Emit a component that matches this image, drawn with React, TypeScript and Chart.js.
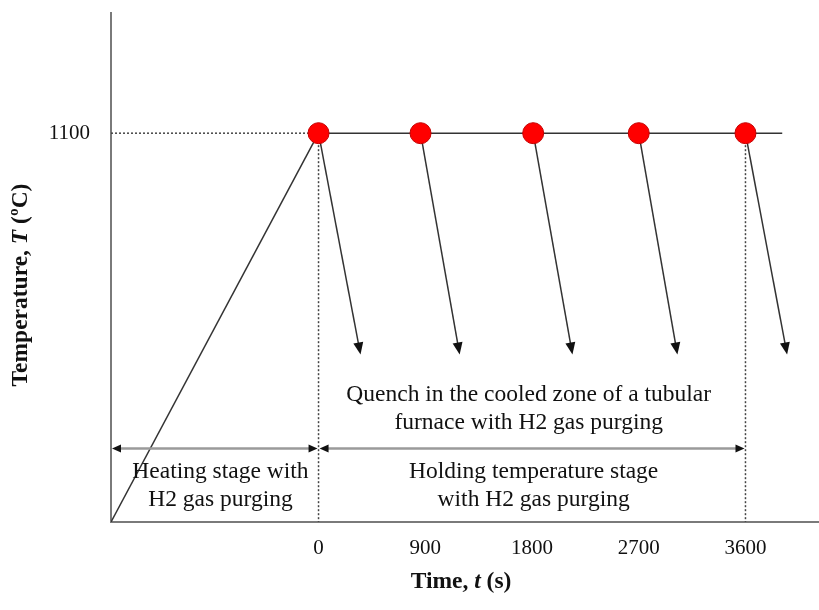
import React, { useEffect, useRef } from 'react';
import { Chart, registerables } from 'chart.js';

Chart.register(...registerables);

const SERIF = '"Liberation Serif", "Times New Roman", Times, serif';

// ---- data ----
const xTickValues = [0, 900, 1800, 2700, 3600];
const xTickLabels = ['0', '900', '1800', '2700', '3600'];
const yTickValues = [1100];
const yTickLabels = ['1100'];
const holdTemp = 1100;
const sampleTimes = [0, 860, 1810, 2700, 3600];
const heatStartTime = -1750;
const heatStartTemp = 0;
const holdEndTime = 3910;
const quenchTipTimes = [354, 1190, 2141, 3026, 3951];
const quenchTipTemp = 474;
const stageArrowTemp = 208;
const heatingSpan = [-1750, 0];
const holdingSpan = [0, 3600];
const xRange = [-1750, 4220];
const yRange = [0, 1440];

// annotation texts (anchor in data units)
const heatingText = ['Heating stage with', 'H2 gas purging'];
const heatingTextAt = [-827, 143];
const holdingText = ['Holding temperature stage', 'with H2 gas purging'];
const holdingTextAt = [1814, 143];
const quenchText = ['Quench in the cooled zone of a tubular', 'furnace with H2 gas purging'];
const quenchTextAt = [1772, 361];

function arrowHead(ctx: CanvasRenderingContext2D, x0: number, y0: number, x1: number, y1: number, len: number, half: number) {
  const a = Math.atan2(y1 - y0, x1 - x0);
  const dx = Math.cos(a), dy = Math.sin(a);
  const bx = x1 - dx * len, by = y1 - dy * len;
  ctx.beginPath();
  ctx.moveTo(x1, y1);
  ctx.lineTo(bx - dy * half, by + dx * half);
  ctx.lineTo(bx + dy * half, by - dx * half);
  ctx.closePath();
  ctx.fill();
}

function mixedText(ctx: CanvasRenderingContext2D, parts: { t: string; f: string }[], cx: number, cy: number) {
  let total = 0;
  const widths = parts.map((p) => {
    ctx.font = p.f;
    const w = ctx.measureText(p.t).width;
    total += w;
    return w;
  });
  let x = cx - total / 2;
  ctx.textAlign = 'left';
  ctx.textBaseline = 'middle';
  parts.forEach((p, i) => {
    ctx.font = p.f;
    ctx.fillText(p.t, x, cy);
    x += widths[i];
  });
}

const schematicPlugin = {
  id: 'schematic',
  beforeDatasetsDraw(chart: any) {
    const { ctx, scales } = chart;
    const x = scales.x, y = scales.y;
    ctx.save();
    ctx.strokeStyle = '#333';
    ctx.fillStyle = '#111';
    ctx.lineWidth = 1.5;
    sampleTimes.forEach((t, i) => {
      const x0 = x.getPixelForValue(t), y0 = y.getPixelForValue(holdTemp);
      const x1 = x.getPixelForValue(quenchTipTimes[i]), y1 = y.getPixelForValue(quenchTipTemp);
      const a = Math.atan2(y1 - y0, x1 - x0);
      ctx.beginPath();
      ctx.moveTo(x0, y0);
      ctx.lineTo(x1 - Math.cos(a) * 8, y1 - Math.sin(a) * 8);
      ctx.stroke();
      arrowHead(ctx, x0, y0, x1, y1, 12, 5);
    });
    ctx.restore();
  },
  afterDatasetsDraw(chart: any) {
    const { ctx, scales } = chart;
    const x = scales.x, y = scales.y;
    ctx.save();
    // stage double arrows
    const ya = y.getPixelForValue(stageArrowTemp);
    [heatingSpan, holdingSpan].forEach((span) => {
      const xa = x.getPixelForValue(span[0]);
      const xb = x.getPixelForValue(span[1]);
      ctx.strokeStyle = '#9a9a9a';
      ctx.lineWidth = 2.5;
      ctx.beginPath();
      ctx.moveTo(xa + 6, ya);
      ctx.lineTo(xb - 6, ya);
      ctx.stroke();
      ctx.fillStyle = '#111';
      arrowHead(ctx, xb, ya, xa + 1, ya, 9, 4);
      arrowHead(ctx, xa, ya, xb - 1, ya, 9, 4);
    });
    // annotation texts
    ctx.fillStyle = '#111';
    ctx.font = `23.5px ${SERIF}`;
    ctx.textAlign = 'center';
    ctx.textBaseline = 'middle';
    const block = (lines: string[], at: number[]) => {
      const cx = x.getPixelForValue(at[0]);
      const cy = y.getPixelForValue(at[1]);
      lines.forEach((l, i) => ctx.fillText(l, cx, cy + i * 28.5));
    };
    block(heatingText, heatingTextAt);
    block(holdingText, holdingTextAt);
    block(quenchText, quenchTextAt);
    ctx.restore();
  },
  afterDraw(chart: any) {
    const { ctx } = chart;
    ctx.save();
    ctx.fillStyle = '#111';
    const bold = `bold 23.5px ${SERIF}`;
    const boldIt = `italic bold 23.5px ${SERIF}`;
    // x title
    mixedText(
      ctx,
      [
        { t: 'Time, ', f: bold },
        { t: 't', f: boldIt },
        { t: ' (s)', f: bold },
      ],
      461,
      582
    );
    // y title
    ctx.translate(21, 285);
    ctx.rotate(-Math.PI / 2);
    mixedText(
      ctx,
      [
        { t: 'Temperature, ', f: bold },
        { t: 'T', f: boldIt },
        { t: ' (ºC)', f: bold },
      ],
      0,
      0
    );
    ctx.restore();
  },
};

const zeroPad = (s: any) => {
  s.paddingTop = 0;
  s.paddingBottom = 0;
  s.paddingLeft = 0;
  s.paddingRight = 0;
};

export default function App() {
  const ref = useRef<HTMLCanvasElement>(null);
  useEffect(() => {
    if (!ref.current) return;
    const lineDs = (data: { x: number; y: number }[], dashed: boolean, color: string) => ({
      data,
      showLine: true,
      borderColor: color,
      borderWidth: 1.5,
      borderDash: dashed ? [2, 2] : [],
      pointRadius: 0,
      pointHoverRadius: 0,
      fill: false,
      order: 5,
    });
    const chart = new Chart(ref.current, {
      type: 'scatter',
      data: {
        datasets: [
          {
            data: sampleTimes.map((t) => ({ x: t, y: holdTemp })),
            pointRadius: 10.5,
            pointHoverRadius: 10.5,
            pointBackgroundColor: '#ff0000',
            pointBorderColor: '#c40000',
            pointBorderWidth: 1,
            showLine: false,
            order: 0,
          } as any,
          lineDs([{ x: 0, y: holdTemp }, { x: holdEndTime, y: holdTemp }], false, '#333'),
          lineDs([{ x: heatStartTime, y: heatStartTemp }, { x: 0, y: holdTemp }], false, '#333'),
          lineDs([{ x: xRange[0], y: holdTemp }, { x: 0, y: holdTemp }], true, '#444'),
          lineDs([{ x: 0, y: holdTemp }, { x: 0, y: yRange[0] }], true, '#444'),
          lineDs([{ x: 3600, y: holdTemp }, { x: 3600, y: yRange[0] }], true, '#444'),
        ],
      },
      options: {
        animation: false,
        responsive: false,
        devicePixelRatio: 1,
        layout: { autoPadding: false, padding: { top: 13, left: 0, right: 0, bottom: 0 } },
        plugins: { legend: { display: false }, tooltip: { enabled: false } },
        events: [],
        scales: {
          x: {
            type: 'linear',
            min: xRange[0],
            max: xRange[1],
            grid: { display: false, drawTicks: false },
            border: { display: true, color: '#7a7a7a', width: 2 },
            ticks: {
              color: '#111',
              font: { family: SERIF, size: 21 },
              padding: 14,
              autoSkip: false,
              maxRotation: 0,
              callback: (v: any) => {
                const i = xTickValues.indexOf(Number(v));
                return i >= 0 ? xTickLabels[i] : '';
              },
            },
            afterBuildTicks: (s: any) => {
              s.ticks = xTickValues.map((v) => ({ value: v }));
            },
            afterFit: (s: any) => {
              s.height = 88;
              zeroPad(s);
            },
          },
          y: {
            type: 'linear',
            min: yRange[0],
            max: yRange[1],
            grid: { display: false, drawTicks: false },
            border: { display: true, color: '#7a7a7a', width: 2 },
            ticks: {
              color: '#111',
              font: { family: SERIF, size: 21 },
              padding: 21,
              callback: (v: any) => {
                const i = yTickValues.indexOf(Number(v));
                return i >= 0 ? yTickLabels[i] : '';
              },
            },
            afterBuildTicks: (s: any) => {
              s.ticks = yTickValues.map((v) => ({ value: v }));
            },
            afterFit: (s: any) => {
              s.width = 111;
              zeroPad(s);
            },
          },
        },
      } as any,
      plugins: [schematicPlugin],
    });
    return () => chart.destroy();
  }, []);
  return (
    <div style={{ position: 'absolute', left: 0, top: 0, width: 819, height: 610, background: '#fff' }}>
      <canvas ref={ref} width={819} height={610} />
    </div>
  );
}
